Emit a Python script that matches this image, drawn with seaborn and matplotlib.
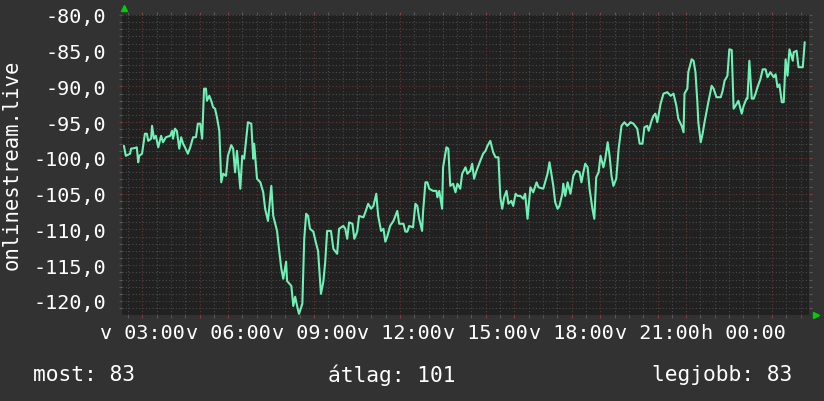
import datetime as dt
import pandas as pd
import matplotlib
matplotlib.use("Agg")
import matplotlib.pyplot as plt
import matplotlib.dates as mdates
import matplotlib.transforms as mtrans
from matplotlib.ticker import MultipleLocator, FuncFormatter
import seaborn as sns

# az ablak kezdete (vasárnap hajnal), 24 órás nézet
kezdet = dt.datetime(2024, 3, 10, 2, 17, 30)
hossz_ora = 24

# percek a kezdettől
perc = [4, 8, 17, 19, 27, 31, 34, 36, 42, 48, 52, 55, 61, 63, 67, 71, 76, 82, 86, 92,
        101, 105, 107, 111, 115, 120, 124, 128, 132, 138, 143, 149, 155, 159, 164, 168,
        172, 176, 178, 183, 187, 191, 195, 199, 204, 208, 212, 218, 222, 229, 233, 237,
        241, 248, 252, 256, 262, 264, 271, 275, 277, 283,
        290, 296, 300, 306, 313, 317, 325, 329, 334, 338, 344, 346, 355, 359, 363, 367,
        371, 378, 382, 386, 390, 394, 401, 407, 411, 417, 422, 426, 430, 438, 443, 451,
        455, 464, 468, 472, 476, 483, 487, 493, 497, 506, 510, 516, 522, 527, 533, 537,
        543, 548, 552, 556, 562, 569, 577, 581, 590, 594, 598, 602, 610, 615, 619, 623,
        629, 631, 636,
        640, 644, 652, 659, 661, 665, 671, 673, 680, 684, 688, 694, 699, 703, 709, 713,
        720, 724, 730, 734, 738, 743, 751, 757, 762, 766, 772, 778, 783, 789, 793, 797,
        801, 806, 810, 816, 820, 825, 829,
        835, 841, 845, 850, 856, 862, 869, 873, 883, 892, 896, 900, 904, 908, 913, 917,
        923, 925, 929, 934, 940, 946, 952, 959, 963, 967, 971, 976, 980, 986, 990, 994,
        999, 1003, 1009, 1013, 1018, 1022, 1026, 1030, 1036, 1041, 1047, 1053, 1059, 1066,
        1072, 1080, 1085, 1091, 1095, 1101, 1104, 1110, 1114, 1118, 1122, 1129, 1135, 1143,
        1150, 1156, 1162, 1166, 1173, 1177, 1179, 1185, 1187, 1194, 1198, 1202, 1206, 1208,
        1213, 1217, 1221, 1225, 1229, 1236, 1240, 1246, 1255, 1259, 1263, 1269, 1273, 1278,
        1282, 1286, 1292, 1299, 1303, 1309, 1311, 1315, 1320, 1324, 1328, 1332, 1338, 1343,
        1349, 1353, 1359, 1366, 1370, 1374, 1378, 1383, 1387, 1391, 1395, 1399, 1406, 1408,
        1414, 1418, 1427, 1431]

# jelszint (dBm)
jel = [-98.3, -99.7, -99.4, -98.7, -98.6, -98.5, -100.6, -99.7, -99.4, -96.6, -96.6, -97.6,
       -97.3, -95.5, -97.3, -96.9, -98.5, -96.9, -97.8, -97.1, -96.9, -96.2, -97.3, -95.9,
       -96.2, -98.7, -97.1, -98.0, -98.5, -99.4, -98.5, -97.1, -97.1, -95.2, -95.2, -97.3,
       -90.3, -90.3, -92.0, -91.3, -92.0, -92.9, -93.1, -94.3, -96.2, -103.4, -102.2, -102.5,
       -99.7, -98.2, -98.7, -102.0, -99.0, -104.3, -99.7, -100.1, -96.2, -95.0, -95.2, -100.1,
       -98.0, -102.9,
       -103.4, -104.8, -107.1, -108.8, -103.9, -108.1, -110.2, -112.7, -115.5, -116.9, -114.5,
       -117.2, -117.9, -120.7, -119.4, -120.7, -121.8, -120.4, -111.3, -107.8, -108.1, -109.9,
       -110.3, -112.0, -113.0, -119.0, -117.3, -114.5, -110.2, -110.2, -112.7, -113.4, -109.9,
       -109.5, -109.9, -111.3, -109.0, -109.2, -111.3, -110.3, -108.1, -108.3, -107.6, -106.4,
       -107.1, -106.7, -105.0, -108.1, -110.2, -109.9, -111.7, -111.0, -109.5, -108.8, -107.4,
       -109.2, -109.2, -110.3, -110.3, -109.5, -109.7, -106.4, -106.7, -108.5, -110.2, -107.6,
       -103.4,
       -103.4, -104.3, -104.6, -104.6, -105.5, -104.6, -107.1, -101.3, -98.5, -98.7, -103.9,
       -103.6, -104.8, -103.6, -104.3, -102.2, -101.3, -102.2, -101.8, -100.8, -102.9, -101.8,
       -100.4, -99.4, -99.0, -98.3, -97.6, -99.2, -99.9, -99.9, -105.5, -107.1, -105.5, -104.6,
       -106.4, -106.0, -106.7, -105.0, -105.3,
       -105.3, -105.7, -105.0, -108.5, -104.1, -104.8, -103.4, -104.1, -104.3, -102.2, -100.6,
       -102.2, -103.9, -106.2, -107.1, -106.7, -105.0, -103.6, -105.3, -103.4, -105.0, -102.5,
       -101.8, -102.0, -103.4, -102.0, -100.8, -101.3, -104.3, -107.1, -108.5, -102.7, -102.0,
       -99.7, -101.3, -100.1, -97.8, -99.7, -102.5, -103.9, -102.9, -98.7, -95.5, -95.0, -95.5,
       -95.0, -95.2, -95.9, -98.0, -98.0, -95.7, -95.5, -96.2, -94.8, -94.1, -93.8, -95.0,
       -92.4, -91.0, -90.8, -91.3, -91.0, -92.7, -94.5, -95.5, -96.4, -91.0, -90.3, -88.0,
       -86.2, -86.4, -88.0, -92.2, -95.0, -97.8, -96.6, -95.0, -93.6, -92.2, -89.9, -90.3,
       -91.5, -91.5, -90.6, -89.2, -88.5, -84.8, -84.9, -93.1, -92.7, -92.0, -93.8, -92.7,
       -91.7, -91.7, -86.4, -91.7, -91.7, -91.0, -90.1, -89.0, -87.6, -87.6, -88.7, -88.0,
       -88.7, -88.3, -90.1, -89.7, -92.2, -92.2, -86.2, -88.5, -84.8, -86.4, -85.2, -85.0,
       -87.3, -87.3, -83.8]

y_cim = "onlinestream.live"
napok = {0: "h", 1: "k", 2: "sze", 3: "cs", 4: "p", 5: "szo", 6: "v"}
lablec = ["most: 83", "átlag: 101", "legjobb: 83"]

hatter = "#323232"
vaszon = "#212121"
vonal = "#70f0b4"
racs_fo = "#6e3434"
racs_mellek = "#4a4a4a"

df = pd.DataFrame({
    "ido": [kezdet + dt.timedelta(minutes=m) for m in perc],
    "jel": jel,
})

sns.set_theme(style="dark")
plt.rcParams["font.family"] = ["DejaVu Sans Mono"]

fig = plt.figure(figsize=(8.24, 4.02), dpi=100, facecolor=hatter)
ax = fig.add_axes([122 / 824, 86 / 402, 687 / 824, 300 / 402])
ax.set_facecolor(vaszon)

sns.lineplot(data=df, x="ido", y="jel", ax=ax, color=vonal, linewidth=1.5, sort=False)

ax.set_xlim(kezdet, kezdet + dt.timedelta(hours=hossz_ora))
ax.set_ylim(-121.96, -80)
ax.set_xlabel("")
ax.set_ylabel("")

ax.xaxis.set_major_locator(mdates.HourLocator())
ax.xaxis.set_minor_locator(mdates.MinuteLocator(byminute=[30]))


def ido_cimke(x, pos):
    d = mdates.num2date(x)
    if d.hour % 3:
        return ""
    return f"{napok[d.weekday()]} {d:%H:%M}"


ax.xaxis.set_major_formatter(FuncFormatter(ido_cimke))
ax.yaxis.set_major_locator(MultipleLocator(5))
ax.yaxis.set_minor_locator(MultipleLocator(1))
ax.yaxis.set_major_formatter(FuncFormatter(lambda v, p: f"{v:.1f}".replace(".", ",")))

ax.grid(which="major", color=racs_fo, linestyle=(0, (1, 2)), linewidth=0.8)
ax.grid(which="minor", color=racs_mellek, linestyle=(0, (1, 2)), linewidth=0.8)
ax.set_axisbelow(True)

ax.tick_params(which="both", direction="out", top=True, bottom=True, left=True, right=True,
               labelcolor="white", labelsize=14.5)
ax.tick_params(which="major", color="#8c3a3a", length=2.5, width=0.8)
ax.tick_params(which="minor", color="#5a5a5a", length=2.5, width=0.8)
ax.tick_params(axis="y", which="both", pad=9)
ax.tick_params(axis="x", which="both", pad=3)
for s in ax.spines.values():
    s.set_visible(False)

# nyilak a tengelyek végén
fel = mtrans.offset_copy(ax.transAxes, fig=fig, x=2 / 100, y=7 / 100, units="inches")
ax.plot([0], [1], marker="^", color="#00d000", markersize=5, transform=fel, clip_on=False)
jobbra = mtrans.offset_copy(ax.transAxes, fig=fig, x=7 / 100, y=0, units="inches")
ax.plot([1], [0], marker=">", color="#00d000", markersize=5, transform=jobbra, clip_on=False)

fig.text(0.0146, 0.59, y_cim, rotation=90, color="white", fontsize=14.8,
         ha="center", va="center")
fig.text(33 / 824, 0.067, lablec[0], color="white", fontsize=15.3, ha="left", va="center")
fig.text(392 / 824, 0.067, lablec[1], color="white", fontsize=15.3, ha="center", va="center")
fig.text(792 / 824, 0.067, lablec[2], color="white", fontsize=15.3, ha="right", va="center")

fig.savefig("out.png", dpi=100, facecolor=hatter)
